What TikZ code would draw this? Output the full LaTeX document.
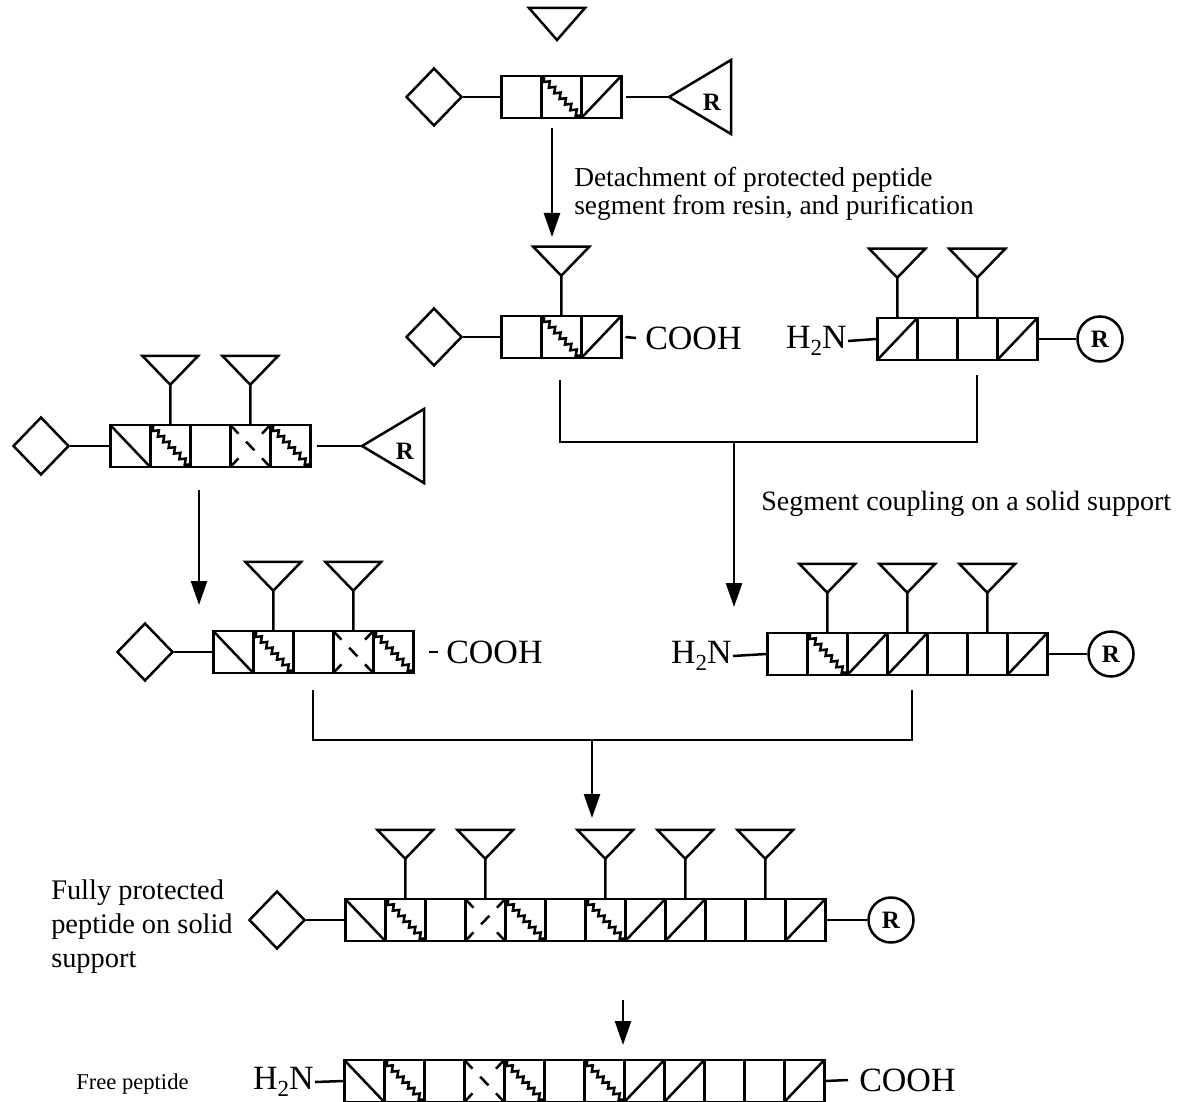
\documentclass[tikz,border=0pt]{standalone}
\usepackage{fontspec}
\setmainfont{Liberation Serif}
\usetikzlibrary{shapes.geometric, arrows.meta, calc, decorations.pathmorphing}

% residue boxes: e empty, f forward diagonal, b back diagonal,
% w wavy back diagonal, x / y dashed cross with the middle dash \ or /
\tikzset{
  residue/.style={draw, rectangle, minimum width=20pt, minimum height=21pt, inner sep=0pt, anchor=west},
  res-e/.style={},
  res-f/.style={path picture={\draw (path picture bounding box.south west) -- (path picture bounding box.north east);}},
  res-b/.style={path picture={\draw (path picture bounding box.north west) -- (path picture bounding box.south east);}},
  res-w/.style={path picture={\draw[decorate, decoration={zigzag, segment length=3.9pt, amplitude=1.3pt}] (path picture bounding box.north west) -- (path picture bounding box.south east);}},
  res-x/.style={path picture={
      \draw[dash pattern=on 6pt off 5.5pt on 6pt off 5.5pt on 6pt] (path picture bounding box.north west) -- (path picture bounding box.south east);
      \draw[dash pattern=on 6pt off 17pt on 6pt] (path picture bounding box.south west) -- (path picture bounding box.north east);}},
  res-y/.style={path picture={
      \draw[dash pattern=on 6pt off 17pt on 6pt] (path picture bounding box.north west) -- (path picture bounding box.south east);
      \draw[dash pattern=on 6pt off 5.5pt on 6pt off 5.5pt on 6pt] (path picture bounding box.south west) -- (path picture bounding box.north east);}},
}

% a chain of residues, named #1-1, #1-2, ... starting at the west point #2
\newcommand{\peptide}[3]{%
  \foreach \res [count=\k] in {#3} {
    \node[residue, res-\res] (#1-\k) at ($#2+(40*\k-40,0)$) {};
  }
}
% protecting group hanging on top of a residue
\newcommand{\sidechain}[1]{%
  \draw (#1.north) -- ++(0,-39) -- ++(-28,-29) -- ++(56,0) -- ++(-28,29);
}
% resin anchor drawn as a triangle pointing left, tip at #1
\newcommand{\resin}[1]{%
  \draw (#1) -- ++(62,-37) -- ++(0,74) -- cycle;
  \node[rlabel] (#1-r) at ($(#1)+(43,5)$) {R};
}
\newcommand{\amine}{H\raisebox{-3.5pt}{\fontsize{11.5}{12}\selectfont 2}N}

\begin{document}
\begin{tikzpicture}[x=0.5pt, y=-0.5pt, line width=1.25pt,
  nterm/.style={draw, diamond, minimum width=28pt, minimum height=29pt, inner sep=0pt},
  flow/.style={-{Triangle[length=12pt, width=8pt]}},
  group/.style={font=\fontsize{17}{20}\selectfont, inner sep=0pt},
  note/.style={font=\fontsize{13.7}{14}\selectfont, align=left, inner sep=0pt},
  rlabel/.style={font=\fontsize{12.5}{13}\selectfont\bfseries, inner sep=0pt},
  bead/.style={draw, circle, minimum size=22.5pt, inner sep=0pt, font=\fontsize{12.5}{13}\selectfont\bfseries},
]
  \useasboundingbox (0,0) rectangle (1181,1101);

  % segment still on its resin
  \coordinate (loose) at (557,40);
  \draw (loose) -- ++(-28,-32) -- ++(56,0) -- cycle;
  \node[nterm] (s1-cap) at (434,97) {};
  \peptide{s1}{(500,97)}{e,w,f}
  \draw (s1-cap.east) -- (s1-1.west);
  \coordinate (s1-tip) at (669,97);
  \draw ([xshift=1.5pt]s1-3.east) -- (s1-tip);
  \resin{s1-tip}

  \coordinate (a1-start) at (552,128);
  \coordinate (a1-end) at (552,237);
  \draw[flow] (a1-start) -- (a1-end);
  \node[note, anchor=base west] (detach) at (573,215) {Detachment of protected peptide\\segment from resin, and purification};

  % free protected segment
  \node[nterm] (s2-cap) at (434,337) {};
  \peptide{s2}{(500,337)}{e,w,f}
  \draw (s2-cap.east) -- (s2-1.west);
  \sidechain{s2-2}
  \node[group, anchor=west] (s2-acid) at (644,338) {COOH};
  \draw ([xshift=1.5pt]s2-3.east) -- ([xshift=-4pt]s2-acid.west);

  % segment on solid support
  \node[group, anchor=east] (s3-amine) at (848,341) {\amine};
  \peptide{s3}{(876,339)}{f,e,e,f}
  \draw (s3-amine.east) -- (s3-1.west);
  \sidechain{s3-1}
  \sidechain{s3-3}
  \node[bead] (s3-r) at (1100,339) {R};
  \draw (s3-4.east) -- (s3-r);

  % first coupling
  \coordinate (j1-l) at (560,380);
  \coordinate (j1-r) at (977,375);
  \coordinate (j1) at (734,442);
  \coordinate (j1-end) at (734,607);
  \draw (j1-l) |- (j1) -| (j1-r);
  \draw[flow] (j1) -- (j1-end);
  \node[note, anchor=base west, font=\fontsize{14}{15}\selectfont] (coupling) at (760,510) {Segment coupling on a solid support};

  % second segment on resin
  \node[nterm] (s4-cap) at (41,446) {};
  \peptide{s4}{(109,446)}{b,w,e,x,w}
  \draw (s4-cap.east) -- (s4-1.west);
  \sidechain{s4-2}
  \sidechain{s4-4}
  \coordinate (s4-tip) at (362,446);
  \draw ([xshift=2.5pt]s4-5.east) -- (s4-tip);
  \resin{s4-tip}

  \coordinate (a2-start) at (199,490);
  \coordinate (a2-end) at (199,605);
  \draw[flow] (a2-start) -- (a2-end);

  % second segment, detached
  \node[nterm] (s5-cap) at (145,652) {};
  \peptide{s5}{(212,652)}{b,w,e,x,w}
  \draw (s5-cap.east) -- (s5-1.west);
  \sidechain{s5-2}
  \sidechain{s5-4}
  \node[group, anchor=west] (s5-acid) at (445,652) {COOH};
  \draw ([xshift=7pt]s5-5.east) -- ([xshift=-3.5pt]s5-acid.west);

  % elongated chain on support
  \node[group, anchor=east] (s6-amine) at (733,656) {\amine};
  \peptide{s6}{(766,654)}{e,w,f,f,e,e,f}
  \draw (s6-amine.east) -- (s6-1.west);
  \sidechain{s6-2}
  \sidechain{s6-4}
  \sidechain{s6-6}
  \node[bead] (s6-r) at (1111,654) {R};
  \draw (s6-7.east) -- (s6-r);

  % second coupling
  \coordinate (j2-l) at (313,690);
  \coordinate (j2-r) at (912,690);
  \coordinate (j2) at (592,740);
  \coordinate (j2-end) at (592,818);
  \draw (j2-l) |- (j2) -| (j2-r);
  \draw[flow] (j2) -- (j2-end);

  % fully protected peptide
  \node[note, anchor=base west, font=\fontsize{14.2}{16.8}\selectfont] (full-label) at (50,967) {Fully protected\\peptide on solid\\support};
  \node[nterm] (s7-cap) at (277,920) {};
  \peptide{s7}{(344,920)}{b,w,e,y,w,e,w,f,f,e,e,f}
  \draw (s7-cap.east) -- (s7-1.west);
  \foreach \g in {2,4,7,9,11} {
    \sidechain{s7-\g}
  }
  \node[bead] (s7-r) at (891,920) {R};
  \draw (s7-12.east) -- (s7-r);

  \coordinate (a3-start) at (623,1000);
  \coordinate (a3-end) at (623,1045);
  \draw[flow] (a3-start) -- (a3-end);

  % free peptide
  \node[note, anchor=base west, font=\fontsize{11.3}{12}\selectfont] (free-label) at (75,1089) {Free peptide};
  \node[group, anchor=east] (s8-amine) at (315,1082) {\amine};
  \peptide{s8}{(343,1081)}{b,w,e,x,w,e,w,f,f,e,e,f}
  \draw (s8-amine.east) -- (s8-1.west);
  \node[group, anchor=west] (s8-acid) at (858,1080) {COOH};
  \draw (s8-12.east) -- ([xshift=-5pt]s8-acid.west);
\end{tikzpicture}
\end{document}
